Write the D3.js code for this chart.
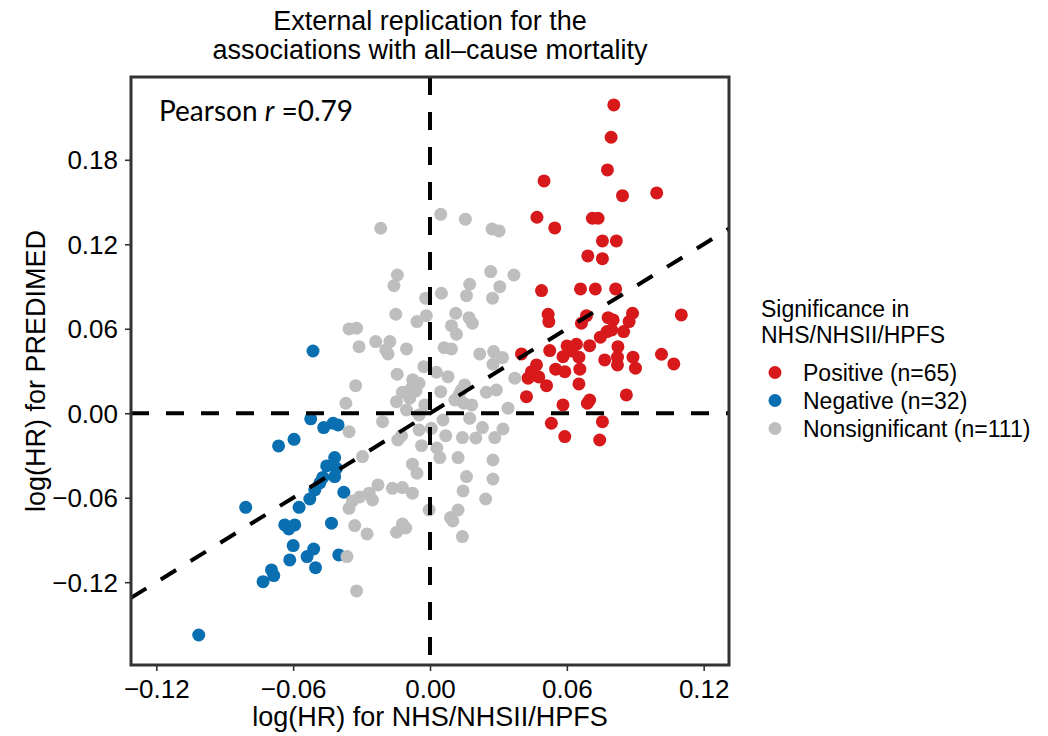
<!DOCTYPE html>
<html>
<head>
<meta charset="utf-8">
<script src="https://cdn.jsdelivr.net/npm/d3@7"></script>
<style>
  html, body { margin: 0; padding: 0; background: #fff; }
  svg { display: block; }
</style>
</head>
<body>
<div id="chart"></div>
<script>
// Legend categories
const categories = ["Positive (n=65)", "Negative (n=32)", "Nonsignificant (n=111)"];
const categoryColors = ["#d7191c", "#0a6fb0", "#bebebe"];

// log(HR): NHS/NHSII/HPFS (x) vs PREDIMED (y), significant positive associations
const positiveX = [0.0806,0.0794,0.0778,0.0500,0.0844,0.0994,0.0469,0.0712,0.0737,0.0547,
  0.0756,0.0817,0.0692,0.0756,0.0489,0.0660,0.0725,0.0814,0.0518,0.0521,
  0.0686,0.0664,0.0781,0.0803,0.0888,0.0873,0.1102,0.0776,0.0849,0.0747,
  0.0525,0.0601,0.0642,0.0700,0.0824,0.0583,0.0653,0.0766,0.0822,0.0890,
  0.1015,0.1069,0.0467,0.0445,0.0551,0.0591,0.0657,0.0822,0.0901,0.0511,
  0.0653,0.0861,0.0583,0.0700,0.0690,0.0532,0.0756,0.0591,0.0744,0.0401,
  0.0430,0.0423,0.0620,0.0477,0.0797];
const positiveY = [0.2190,0.1960,0.1728,0.1650,0.1545,0.1565,0.1392,0.1385,0.1385,0.1316,
  0.1224,0.1224,0.1117,0.1098,0.0871,0.0883,0.0883,0.0883,0.0703,0.0651,
  0.0693,0.0639,0.0679,0.0663,0.0710,0.0651,0.0698,0.0580,0.0580,0.0540,
  0.0445,0.0478,0.0490,0.0480,0.0473,0.0402,0.0398,0.0379,0.0398,0.0398,
  0.0419,0.0350,0.0343,0.0295,0.0313,0.0295,0.0313,0.0343,0.0320,0.0196,
  0.0208,0.0130,0.0059,0.0094,0.0071,-0.0071,-0.0060,-0.0166,-0.0190,0.0421,
  0.0249,0.0118,0.0442,0.0258,0.0592];

// significant negative associations
const negativeX = [-0.0513,-0.0523,-0.0466,-0.0425,-0.0403,-0.0596,-0.0664,-0.0418,-0.0410,-0.0470,
  -0.0418,-0.0505,-0.0378,-0.0527,-0.0574,-0.0808,-0.0637,-0.0593,-0.0432,-0.0600,
  -0.0510,-0.0539,-0.0615,-0.0400,-0.0502,-0.0695,-0.0685,-0.0732,-0.1014,-0.0453,
  -0.0483,-0.0619];
const negativeY = [0.0442,-0.0040,-0.0102,-0.0071,-0.0083,-0.0185,-0.0232,-0.0315,-0.0391,-0.0456,
  -0.0450,-0.0545,-0.0561,-0.0609,-0.0668,-0.0668,-0.0793,-0.0793,-0.0781,-0.0940,
  -0.0964,-0.1018,-0.1042,-0.1006,-0.1097,-0.1113,-0.1153,-0.1196,-0.1575,-0.0374,
  -0.0495,-0.0822];

// nonsignificant associations
const nonsigX = [-0.0216,0.0047,0.0155,0.0272,0.0303,-0.0143,0.0266,0.0368,
  -0.0158,0.0174,0.0160,0.0306,0.0274,0.0050,-0.0019,-0.0150,-0.0016,-0.0057,
  0.0113,0.0094,0.0116,0.0171,0.0186,-0.0355,-0.0322,-0.0311,-0.0238,-0.0176,
  -0.0184,-0.0103,0.0062,0.0094,0.0218,0.0279,0.0318,0.0276,-0.0027,-0.0144,
  0.0028,0.0079,-0.0326,-0.0048,-0.0081,-0.0062,-0.0121,-0.0089,-0.0147,0.0047,
  0.0138,0.0152,0.0127,0.0247,0.0291,0.0148,-0.0369,-0.0103,0.0342,-0.0048,
  0.0057,0.0174,-0.0208,-0.0355,0.0006,0.0069,0.0142,0.0230,0.0284,0.0320,
  -0.0125,-0.0048,-0.0037,-0.0296,-0.0077,0.0043,0.0123,0.0276,-0.0057,
  -0.0228,-0.0267,-0.0252,-0.0340,-0.0355,-0.0165,-0.0121,-0.0077,-0.0330,-0.0276,
  -0.0147,-0.0121,-0.0004,0.0090,0.0123,0.0142,0.0145,0.0160,0.0244,0.0276,
  -0.0364,-0.0322,
  0.0372,-0.0194,-0.0076,-0.0023,0.0109,0.0183,-0.0141,0.0030,0.0201,-0.0308,-0.0106,0.0100];
const nonsigY = [0.1314,0.1413,0.1378,0.1309,0.1295,0.0982,0.1006,0.0982,
  0.0906,0.0916,0.0835,0.0899,0.0817,0.0852,0.0817,0.0703,0.0693,0.0651,
  0.0710,0.0622,0.0561,0.0679,0.0639,0.0599,0.0604,0.0473,0.0509,0.0509,
  0.0421,0.0457,0.0466,0.0457,0.0421,0.0438,0.0395,0.0348,0.0331,0.0277,
  0.0291,0.0260,0.0196,0.0213,0.0178,0.0158,0.0149,0.0107,0.0082,0.0153,
  0.0165,0.0201,0.0130,0.0149,0.0165,0.0071,0.0071,0.0023,0.0036,-0.0012,
  -0.0048,-0.0036,-0.0060,-0.0131,-0.0107,-0.0159,-0.0173,-0.0102,-0.0173,-0.0112,
  -0.0159,-0.0119,-0.0230,-0.0308,-0.0362,-0.0315,-0.0315,-0.0332,-0.0426,
  -0.0509,-0.0568,-0.0616,-0.0623,-0.0675,-0.0533,-0.0528,-0.0568,-0.0798,-0.0857,
  -0.0845,-0.0786,-0.0687,-0.0741,-0.0687,-0.0876,-0.0552,-0.0450,-0.0609,-0.0467,
  -0.1018,-0.1262,
  0.0249,0.0450,0.0237,0.0059,0.0094,0.0059,-0.0190,-0.0246,-0.0175,-0.0594,-0.0815,-0.0765];

// Axis ticks and fitted line
const xTicks = [-0.12, -0.06, 0.00, 0.06, 0.12];
const yTicks = [-0.12, -0.06, 0.00, 0.06, 0.12, 0.18];
const fitSlope = 1.0;
const fitIntercept = 0.0;
const pearsonR = "0.79";

const W = 1048, H = 736;
const plot = { left: 131, right: 729, top: 77, bottom: 665 };

const svg = d3.select("#chart").append("svg")
  .attr("width", W).attr("height", H);

const x = d3.scaleLinear().domain([-0.1311, 0.1311]).range([plot.left, plot.right]);
const y = d3.scaleLinear().domain([-0.1788, 0.2388]).range([plot.bottom, plot.top]);
const fmt = d3.format(".2f");

const sansFont = "'Liberation Sans', Arial, Helvetica, sans-serif";

// Title
const title = svg.append("text")
  .attr("x", (plot.left + plot.right) / 2)
  .attr("text-anchor", "middle")
  .style("font-family", sansFont)
  .style("font-size", "27px")
  .attr("fill", "#000");
title.append("tspan").attr("x", (plot.left + plot.right) / 2).attr("y", 30).text("External replication for the");
title.append("tspan").attr("x", (plot.left + plot.right) / 2).attr("y", 59).text("associations with all\u2013cause mortality");

// Points: one group per significance category
const series = [
  { name: categories[0], color: categoryColors[0], xs: positiveX, ys: positiveY },
  { name: categories[1], color: categoryColors[1], xs: negativeX, ys: negativeY },
  { name: categories[2], color: categoryColors[2], xs: nonsigX, ys: nonsigY }
];

const clipId = "plot-clip";
svg.append("clipPath").attr("id", clipId)
  .append("rect")
  .attr("x", plot.left).attr("y", plot.top)
  .attr("width", plot.right - plot.left).attr("height", plot.bottom - plot.top);

const pts = svg.append("g").attr("clip-path", `url(#${clipId})`);
series.forEach(s => {
  pts.append("g").selectAll("circle")
    .data(s.xs.map((v, i) => [v, s.ys[i]]))
    .join("circle")
    .attr("cx", d => x(d[0]))
    .attr("cy", d => y(d[1]))
    .attr("r", 6.5)
    .attr("fill", s.color);
});

// Reference lines and fitted line (drawn over the points)
const lines = svg.append("g").attr("clip-path", `url(#${clipId})`)
  .attr("stroke", "#000").attr("stroke-width", 4)
  .attr("stroke-dasharray", "18 17").attr("fill", "none");
lines.append("line")
  .attr("x1", x.range()[0]).attr("x2", x.range()[1])
  .attr("y1", y(0)).attr("y2", y(0));
lines.append("line")
  .attr("x1", x(0)).attr("x2", x(0))
  .attr("y1", y.range()[1]).attr("y2", y.range()[0]);
const [xd0, xd1] = x.domain();
lines.append("line")
  .attr("x1", x(xd0)).attr("y1", y(fitIntercept + fitSlope * xd0))
  .attr("x2", x(xd1)).attr("y2", y(fitIntercept + fitSlope * xd1));

// Axes
const xAxis = d3.axisBottom(x).tickValues(xTicks).tickFormat(fmt).tickSize(6).tickPadding(5);
const yAxis = d3.axisLeft(y).tickValues(yTicks).tickFormat(fmt).tickSize(6).tickPadding(7);

const gx = svg.append("g").attr("transform", `translate(0,${plot.bottom})`).call(xAxis);
const gy = svg.append("g").attr("transform", `translate(${plot.left},0)`).call(yAxis);
[gx, gy].forEach(g => {
  g.select(".domain").remove();
  g.selectAll(".tick line").attr("stroke", "#333").attr("stroke-width", 1.6);
  g.selectAll(".tick text")
    .attr("fill", "#000")
    .style("font-family", sansFont)
    .style("font-size", "26px");
});
gx.selectAll(".tick text").attr("dy", null).attr("y", 33);
gy.selectAll(".tick text").attr("dy", "0.35em");

// Panel border
svg.append("rect")
  .attr("x", plot.left).attr("y", plot.top)
  .attr("width", plot.right - plot.left).attr("height", plot.bottom - plot.top)
  .attr("fill", "none").attr("stroke", "#333").attr("stroke-width", 3);

// Axis titles
svg.append("text")
  .attr("x", (plot.left + plot.right) / 2).attr("y", 726)
  .attr("text-anchor", "middle")
  .style("font-family", sansFont).style("font-size", "27px")
  .text("log(HR) for NHS/NHSII/HPFS");
svg.append("text")
  .attr("transform", `translate(45,${(plot.top + plot.bottom) / 2}) rotate(-90)`)
  .attr("text-anchor", "middle")
  .style("font-family", sansFont).style("font-size", "27px")
  .text("log(HR) for PREDIMED");

// Correlation annotation
const ann = svg.append("text")
  .attr("x", 159).attr("y", 121)
  .style("font-family", "Lato, 'Open Sans', sans-serif")
  .style("font-size", "28px")
  .attr("fill", "#000");
ann.append("tspan").text("Pearson ");
ann.append("tspan").style("font-style", "italic").text("r");
ann.append("tspan").text(" =" + pearsonR);

// Legend
const legend = svg.append("g")
  .style("font-family", sansFont).style("font-size", "23px");
legend.append("text").attr("x", 761).attr("y", 317).text("Significance in");
legend.append("text").attr("x", 761).attr("y", 343).text("NHS/NHSII/HPFS");
const items = legend.selectAll("g.item")
  .data(categories)
  .join("g").attr("class", "item")
  .attr("transform", (d, i) => `translate(0,${381 + i * 28})`);
items.append("circle")
  .attr("cx", 775).attr("cy", -8.5).attr("r", 6.5)
  .attr("fill", (d, i) => categoryColors[i]);
items.append("text").attr("x", 803).attr("y", 0).text(d => d);
</script>
</body>
</html>
